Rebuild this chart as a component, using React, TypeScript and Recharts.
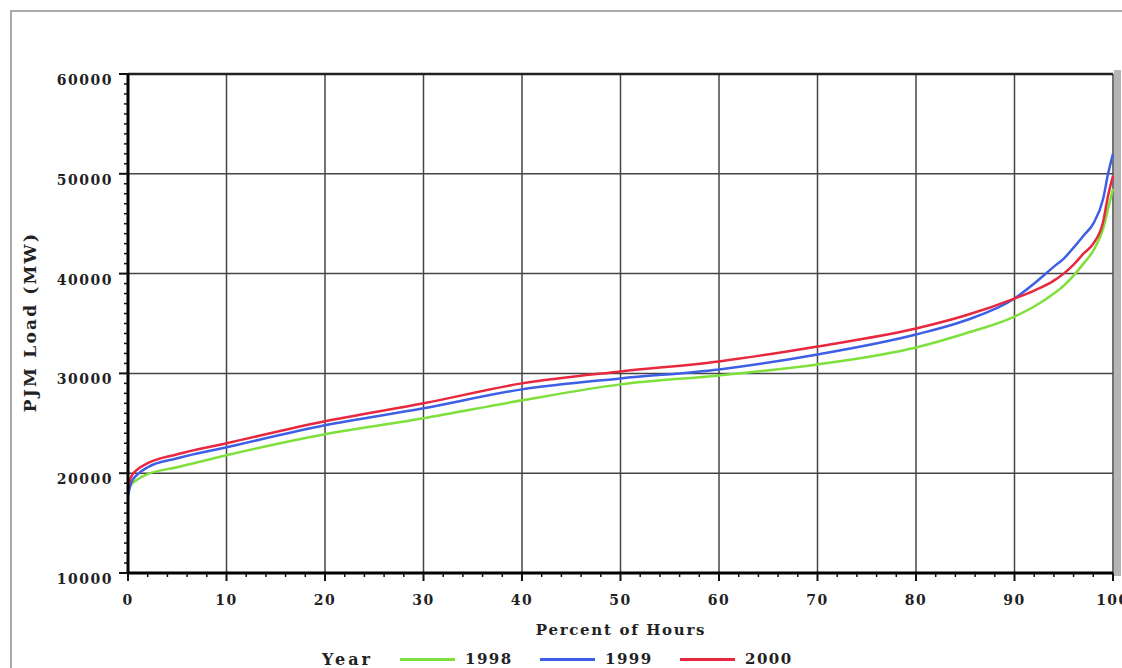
import { LineChart, Line, XAxis, YAxis, CartesianGrid, ReferenceLine } from "recharts";

// percent of hours (load duration curve)
const pct = [0, 0.3, 1, 2, 5, 10, 20, 30, 40, 50, 60, 70, 80, 85, 90, 92, 94, 95, 96, 97, 98, 99, 99.5, 100];
const load1998 = [18000, 18800, 19400, 19900, 20600, 21800, 23900, 25500, 27300, 28900, 29800, 30900, 32600, 34000, 35700, 36700, 38000, 38800, 39800, 41000, 42300, 44500, 46500, 48500];
const load1999 = [17800, 19000, 19900, 20600, 21500, 22600, 24800, 26500, 28400, 29500, 30400, 31900, 33900, 35300, 37500, 39000, 40700, 41500, 42600, 43800, 45000, 47500, 50000, 52000];
const load2000 = [18600, 19600, 20400, 21000, 21900, 23000, 25200, 27000, 29000, 30200, 31200, 32700, 34500, 35800, 37500, 38300, 39300, 40000, 40900, 42000, 43000, 45200, 47800, 49800];

const years = ["1998", "1999", "2000"];
const colors = ["#7ee03a", "#3d5fe6", "#e8283e"];

const xMajor = [0, 10, 20, 30, 40, 50, 60, 70, 80, 90, 100];
const yMajor = [10000, 20000, 30000, 40000, 50000, 60000];

const xTicks: number[] = [];
for (let v = 0; v <= 100; v += 2) xTicks.push(v);
const yTicks: number[] = [];
for (let v = 10000; v <= 60000; v += 1000) yTicks.push(v);

const data = pct.map((p, i) => ({
  pct: p,
  y1998: load1998[i],
  y1999: load1999[i],
  y2000: load2000[i],
}));

const font = "'DejaVu Serif', serif";

function XTick({ x, y, payload }: any) {
  const major = payload.value % 10 === 0;
  return (
    <g>
      <line x1={x} y1={y} x2={x} y2={y + (major ? 8 : 4)} stroke="#111" strokeWidth={major ? 2 : 1.5} />
      {major && (
        <text x={x} y={y + 32} textAnchor="middle" fontFamily={font} fontWeight="bold" fontSize={14} letterSpacing={1.5} fill="#222">
          {payload.value}
        </text>
      )}
    </g>
  );
}

function YTick({ x, y, payload }: any) {
  const major = payload.value % 10000 === 0;
  return (
    <g>
      <line x1={x} y1={y} x2={x - (major ? 9 : 4)} y2={y} stroke="#111" strokeWidth={major ? 2 : 1.5} />
      {major && (
        <text x={x - 15} y={y + 11} textAnchor="end" fontFamily={font} fontWeight="bold" fontSize={14} letterSpacing={1.5} fill="#222">
          {payload.value}
        </text>
      )}
    </g>
  );
}

export default function App() {
  return (
    <div style={{ position: "absolute", left: 0, top: 0, width: 1122, height: 668, overflow: "hidden", background: "#fff" }}>
      <div style={{ position: "absolute", left: 10, top: 10, width: 1200, height: 700, border: "2px solid #aaa" }} />
      <div style={{ position: "absolute", left: 1114, top: 70, width: 7, height: 506, background: "#b5b5b5" }} />
      <LineChart
        width={1122}
        height={668}
        data={data}
        margin={{ top: 74, right: 9, left: 0, bottom: 0 }}
        style={{ position: "absolute", left: 0, top: 0 }}
      >
        <CartesianGrid horizontalValues={yMajor} verticalValues={xMajor} stroke="#444" strokeWidth={1.5} />
        <XAxis
          dataKey="pct"
          type="number"
          domain={[0, 100]}
          ticks={xTicks}
          interval={0}
          height={95}
          tickSize={0}
          tickMargin={0}
          tick={<XTick />}
          axisLine={{ stroke: "#000", strokeWidth: 3 }}
          tickLine={false}
        />
        <YAxis
          type="number"
          domain={[10000, 60000]}
          ticks={yTicks}
          interval={0}
          width={128}
          tickSize={0}
          tickMargin={0}
          tick={<YTick />}
          axisLine={{ stroke: "#000", strokeWidth: 3 }}
          tickLine={false}
        />
        <ReferenceLine y={60000} stroke="#222" strokeWidth={2.5} />
        {years.map((yr, i) => (
          <Line
            key={yr}
            type="monotone"
            dataKey={`y${yr}`}
            name={yr}
            stroke={colors[i]}
            strokeWidth={2.5}
            dot={false}
            isAnimationActive={false}
          />
        ))}
      </LineChart>
      <div
        style={{
          position: "absolute",
          left: 30,
          top: 322,
          transform: "translate(-50%, -50%) rotate(-90deg)",
          whiteSpace: "nowrap",
          fontFamily: font,
          fontWeight: "bold",
          fontSize: 17,
          letterSpacing: 2.2,
          color: "#222",
        }}
      >
        PJM Load (MW)
      </div>
      <div
        style={{
          position: "absolute",
          left: 621,
          top: 621,
          transform: "translateX(-50%)",
          whiteSpace: "nowrap",
          fontFamily: font,
          fontWeight: "bold",
          fontSize: 15,
          letterSpacing: 1.7,
          color: "#222",
        }}
      >
        Percent of Hours
      </div>
      <div style={{ position: "absolute", left: 322, top: 650, fontFamily: font, fontWeight: "bold", fontSize: 16, letterSpacing: 3, color: "#222" }}>
        Year
      </div>
      {years.map((yr, i) => (
        <div key={yr} style={{ position: "absolute", left: 400 + i * 140, top: 650, display: "flex", alignItems: "center" }}>
          <div style={{ width: 55, height: 3, background: colors[i], marginRight: 10 }} />
          <span style={{ fontFamily: font, fontWeight: "bold", fontSize: 15, letterSpacing: 1.5, color: "#222" }}>{yr}</span>
        </div>
      ))}
    </div>
  );
}
